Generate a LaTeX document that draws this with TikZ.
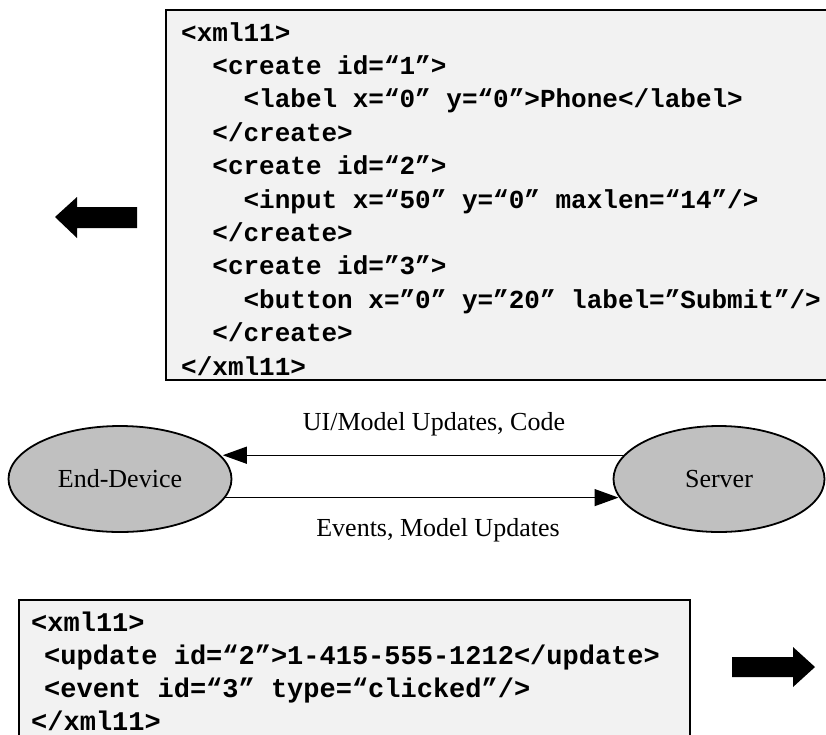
\documentclass[tikz,border=0pt]{standalone}
\usepackage{fontspec}
\setmainfont{Liberation Serif}
\newfontfamily\codefont{Liberation Mono}
\usetikzlibrary{arrows.meta,shapes.geometric}
\definecolor{boxfill}{HTML}{F2F2F2}
\definecolor{ellfill}{HTML}{C0C0C0}
\begin{document}
\begin{tikzpicture}[x=1pt,y=-1pt,
  codebox/.style={draw=black, line width=2pt, fill=boxfill},
  codeline/.style={anchor=base west, inner sep=0pt, font=\codefont\bfseries\fontsize{26}{33}\selectfont},
  codelineb/.style={anchor=base west, inner sep=0pt, font=\codefont\bfseries\fontsize{27}{33}\selectfont},
  blockarrow/.style={fill=black, draw=none},
  endpoint/.style={ellipse, draw=black, line width=1.8pt, fill=ellfill, font=\fontsize{26}{30}\selectfont, inner sep=0pt},
  conn/.style={line width=1.2pt, -{Triangle[length=24pt,width=17pt]}},
  lbl/.style={anchor=base, inner sep=0pt, font=\fontsize{26}{30}\selectfont}]
\useasboundingbox (0,0) rectangle (826,734);
% top code box
\path[codebox] (166,10) rectangle (845,380);
\node[codeline] (t1)  at (181,41)    {<xml11>};
\node[codeline] (t2)  at (212.2,74.4)  {<create id=“1”>};
\node[codeline] (t3)  at (243.4,107.8) {<label x=“0” y=“0”>Phone</label>};
\node[codeline] (t4)  at (212.2,141.2) {</create>};
\node[codeline] (t5)  at (212.2,174.6) {<create id=“2”>};
\node[codeline] (t6)  at (243.4,208)   {<input x=“50” y=“0” maxlen=“14”/>};
\node[codeline] (t7)  at (212.2,241.4) {</create>};
\node[codeline] (t8)  at (212.2,274.8) {<create id=”3”>};
\node[codeline] (t9)  at (243.4,308.2) {<button x=”0” y=”20” label=”Submit”/>};
\node[codeline] (t10) at (212.2,341.6) {</create>};
\node[codeline] (t11) at (181,375)     {</xml11>};
% left block arrow
\path[blockarrow] (55,217) -- (77,197) -- (77,207) -- (137,207) -- (137,228) -- (77,228) -- (77,238) -- cycle;
% end points
\node[endpoint, minimum width=223pt, minimum height=106pt] (dev) at (120,479) {End-Device};
\node[endpoint, minimum width=211pt, minimum height=106pt] (srv) at (719,479) {Server};
\draw[conn] (srv.166.4) -- (srv.166.4 -| dev.12.9);
\draw[conn] (dev.-10.34) -- (dev.-10.34 -| srv.190.92);
\node[lbl] (l1) at (434,430) {UI/Model Updates, Code};
\node[lbl] (l2) at (438,536) {Events, Model Updates};
% bottom code box
\path[codebox] (19,600) rectangle (690,745);
\node[codelineb] (b1) at (31,631) {<xml11>};
\node[codelineb] (b2) at (44,664) {<update id=“2”>1-415-555-1212</update>};
\node[codelineb] (b3) at (44,697) {<event id=“3” type=“clicked”/>};
\node[codelineb] (b4) at (31,730) {</xml11>};
% right block arrow
\path[blockarrow] (815,667) -- (793,647) -- (793,657) -- (732,657) -- (732,677) -- (793,677) -- (793,687) -- cycle;
\end{tikzpicture}
\end{document}
